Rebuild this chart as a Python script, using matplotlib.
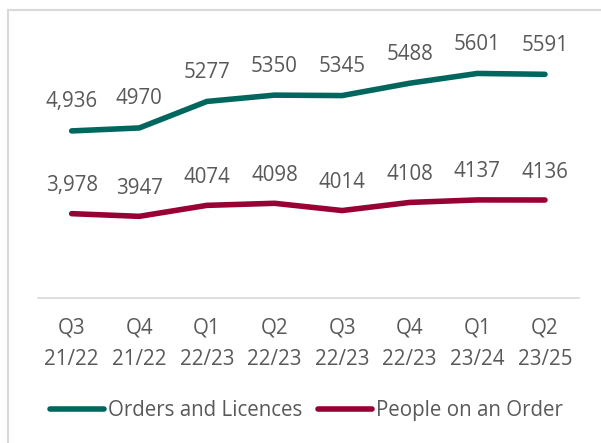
import numpy as np
import matplotlib
matplotlib.use("Agg")
import matplotlib.pyplot as plt
from matplotlib.patches import Rectangle

# data
quarters = ["Q3\n21/22", "Q4\n21/22", "Q1\n22/23", "Q2\n22/23",
            "Q3\n22/23", "Q4\n22/23", "Q1\n23/24", "Q2\n23/25"]
orders = [4936, 4970, 5277, 5350, 5345, 5488, 5601, 5591]
orders_labels = ["4,936", "4970", "5277", "5350", "5345", "5488", "5601", "5591"]
people = [3978, 3947, 4074, 4098, 4014, 4108, 4137, 4136]
people_labels = ["3,978", "3947", "4074", "4098", "4014", "4108", "4137", "4136"]

GREEN = "#00665E"
RED = "#990033"
TEXT = "#595959"
FONTSIZE = 14.8

plt.rcParams['font.family'] = ['Open Sans', 'DejaVu Sans']

fig = plt.figure(figsize=(6.01, 4.43), dpi=100)
ax = fig.add_axes([0.063, 0.327, 0.9, 0.585])

# chart border (light gray, runs off right and bottom edge)
fig.patches.append(Rectangle((8 / 601, -0.1), 1.2, 1 - 10 / 443 + 0.1,
                             transform=fig.transFigure, fill=False,
                             edgecolor="#D9D9D9", linewidth=1.5))

xs = np.arange(len(quarters))
ax.plot(xs, orders, color=GREEN, lw=4.0, solid_capstyle="round",
        solid_joinstyle="round", label="Orders and Licences")
ax.plot(xs, people, color=RED, lw=4.0, solid_capstyle="round",
        solid_joinstyle="round", label="People on an Order")

for x, y, s in zip(xs, orders, orders_labels):
    ax.annotate(s, (x, y), xytext=(0, 29), textcoords="offset pixels",
                ha="center", va="center", color=TEXT, fontsize=FONTSIZE)
for x, y, s in zip(xs, people, people_labels):
    ax.annotate(s, (x, y), xytext=(0, 28), textcoords="offset pixels",
                ha="center", va="center", color=TEXT, fontsize=FONTSIZE)

ax.set_xlim(-0.5, len(quarters) - 0.5)
ax.set_ylim(3000, 6000)
ax.set_yticks([])
ax.set_xticks(xs)
ax.set_xticklabels(quarters, color=TEXT, fontsize=FONTSIZE, linespacing=1.65)
ax.tick_params(axis="x", length=0, pad=14)
for side in ["top", "left", "right"]:
    ax.spines[side].set_visible(False)
ax.spines["bottom"].set_color("#D9D9D9")
ax.spines["bottom"].set_linewidth(1.2)

leg = fig.legend(loc="center", bbox_to_anchor=(0.51, 0.073), ncol=2, frameon=False,
                 fontsize=FONTSIZE, handlelength=2.6, handletextpad=0.2,
                 columnspacing=0.8)
for t in leg.get_texts():
    t.set_color(TEXT)

fig.savefig("out.png", dpi=100)
